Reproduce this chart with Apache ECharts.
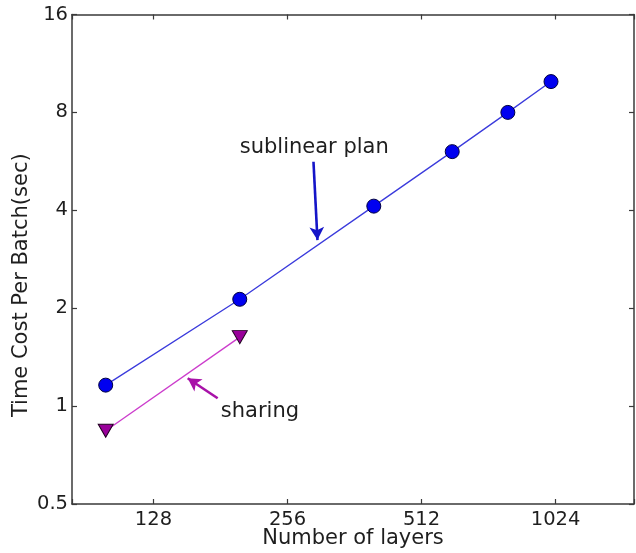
<!DOCTYPE html>
<html>
<head>
<meta charset="utf-8">
<script src="https://cdn.jsdelivr.net/npm/echarts@6/dist/echarts.min.js"></script>
<style>
  html, body { margin: 0; padding: 0; background: #fff; }
  #chart { width: 636px; height: 553px; }
</style>
</head>
<body>
<div id="chart"></div>
<script>
// Number of layers on the x axis (log2 scale)
const layersSublinear = [100, 200, 400, 600, 800, 1000];
const timeSublinear = [1.16, 2.13, 4.12, 6.06, 8.0, 9.95];
const layersSharing = [100, 200];
const timeSharing = [0.84, 1.63];

// Annotation anchors in data units: [layers, seconds]
const sublinearText = [294, 6.22];
const sublinearArrow = [[292.8, 5.64], [298.9, 3.24]];
const sharingText = [222, 0.965];
const sharingArrow = [[178.4, 1.057], [152.8, 1.218]];

const xRange = [84, 1536];
const yRange = [0.5, 16];

const FONT = 'DejaVu Sans';
const TXT = '#1e1e1e';
const AX = '#3a3a3a';
const TICK_FS = 19.5;
const NAME_FS = 21;

const isPow2 = v => Math.abs(Math.log2(v) - Math.round(Math.log2(v))) < 1e-6;

const chart = echarts.init(document.getElementById('chart'), null, { renderer: 'canvas' });

function axisBase(extra) {
  return Object.assign({
    type: 'log',
    logBase: 2,
    axisLine: { show: true, lineStyle: { color: AX, width: 1.5 } },
    axisTick: { show: true, inside: true, length: 5, lineStyle: { color: AX, width: 1.2 } },
    splitLine: { show: false },
    minorTick: { show: false }
  }, extra);
}

const option = {
  backgroundColor: '#ffffff',
  animation: false,
  grid: {
    left: 72, right: 2, top: 14.5, bottom: 49,
    containLabel: false,
    outerBoundsMode: 'none'
  },
  xAxis: [
    axisBase({
      position: 'bottom',
      min: xRange[0], max: xRange[1],
      name: 'Number of layers',
      nameLocation: 'middle',
      nameGap: 24,
      nameMoveOverlap: false,
      nameTextStyle: { fontFamily: FONT, fontSize: NAME_FS, color: TXT },
      axisLabel: {
        show: true, margin: 6,
        fontFamily: FONT, fontSize: TICK_FS, color: TXT,
        formatter: v => (isPow2(v) ? String(Math.round(v)) : '')
      }
    }),
    axisBase({
      position: 'top',
      min: xRange[0], max: xRange[1],
      axisLabel: { show: false }
    })
  ],
  yAxis: [
    axisBase({
      position: 'left',
      min: yRange[0], max: yRange[1],
      name: 'Time Cost Per Batch(sec)',
      nameLocation: 'middle',
      nameGap: 40,
      nameMoveOverlap: false,
      nameTextStyle: { fontFamily: FONT, fontSize: NAME_FS, color: TXT, padding: [0, 52, 0, 0] },
      axisLabel: {
        show: true, margin: 4,
        fontFamily: FONT, fontSize: TICK_FS, color: TXT,
        formatter: v => String(+v.toPrecision(6))
      }
    }),
    axisBase({
      position: 'right',
      min: yRange[0], max: yRange[1],
      axisLabel: { show: false }
    })
  ],
  series: [
    {
      name: 'sublinear plan',
      type: 'line',
      xAxisIndex: 0, yAxisIndex: 0,
      data: layersSublinear.map((x, i) => [x, timeSublinear[i]]),
      symbol: 'circle',
      symbolSize: 14,
      lineStyle: { color: '#3b3bdc', width: 1.3 },
      itemStyle: { color: '#0000f0', borderColor: '#000040', borderWidth: 1 },
      z: 3,
      markLine: {
        silent: true,
        symbol: ['none', 'arrow'],
        symbolSize: [11, 13],
        label: { show: false },
        lineStyle: { color: '#1515c8', width: 2.6, type: 'solid' },
        data: [[{ coord: sublinearArrow[0] }, { coord: sublinearArrow[1] }]]
      },
      markPoint: {
        silent: true,
        symbol: 'circle',
        symbolSize: 0,
        label: {
          show: true, position: 'inside',
          fontFamily: FONT, fontSize: NAME_FS, color: TXT,
          formatter: 'sublinear plan'
        },
        data: [{ coord: sublinearText }]
      }
    },
    {
      name: 'sharing',
      type: 'line',
      xAxisIndex: 0, yAxisIndex: 0,
      data: layersSharing.map((x, i) => [x, timeSharing[i]]),
      symbol: 'triangle',
      symbolRotate: 180,
      symbolSize: [15, 13],
      lineStyle: { color: '#cc3ccc', width: 1.3 },
      itemStyle: { color: '#99009a', borderColor: '#200020', borderWidth: 1 },
      z: 3,
      markLine: {
        silent: true,
        symbol: ['none', 'arrow'],
        symbolSize: [11, 13],
        label: { show: false },
        lineStyle: { color: '#a812a8', width: 2.6, type: 'solid' },
        data: [[{ coord: sharingArrow[0] }, { coord: sharingArrow[1] }]]
      },
      markPoint: {
        silent: true,
        symbol: 'circle',
        symbolSize: 0,
        label: {
          show: true, position: 'inside',
          fontFamily: FONT, fontSize: NAME_FS, color: TXT,
          formatter: 'sharing'
        },
        data: [{ coord: sharingText }]
      }
    }
  ]
};

chart.setOption(option);
</script>
</body>
</html>
